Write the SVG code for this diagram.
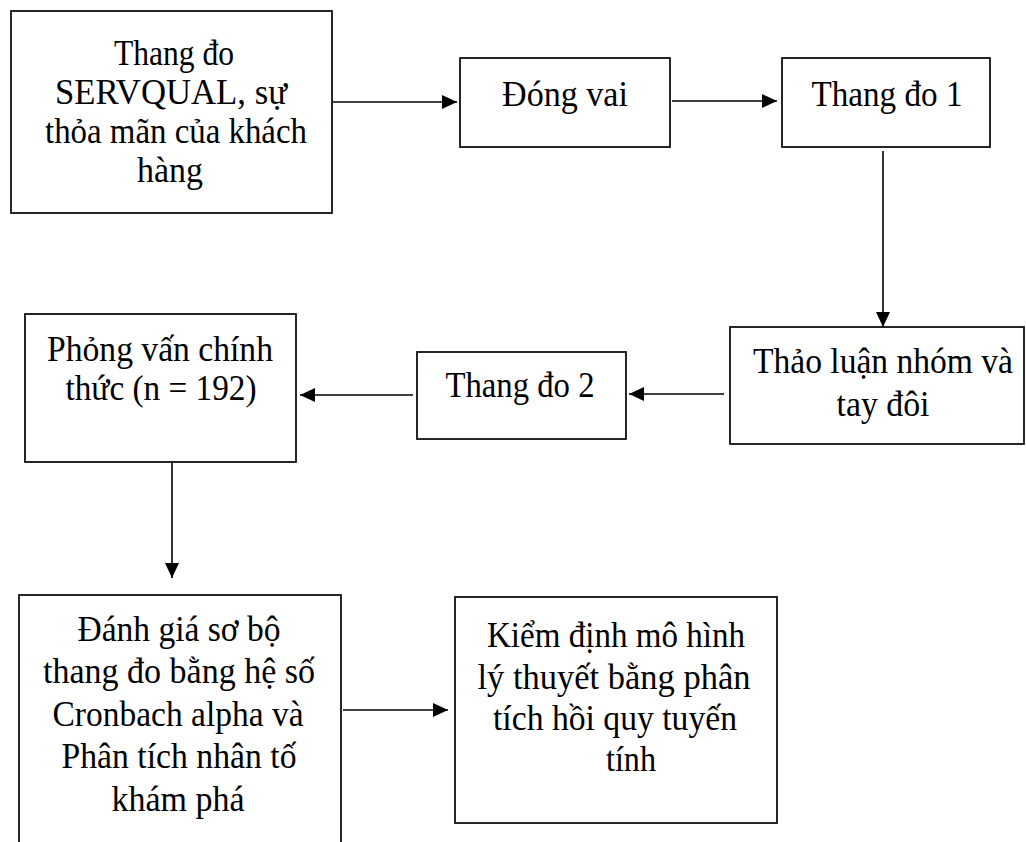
<svg xmlns="http://www.w3.org/2000/svg" width="1026" height="842" viewBox="0 0 1026 842">
  <style>
    .box { fill: #ffffff; stroke: #000000; stroke-width: 1.7; }
    .lbl { font-family: "Liberation Serif", "Times New Roman", serif; font-size: 35px; fill: #000000; text-anchor: middle; }
    .conn { fill: none; stroke: #000000; stroke-width: 1.6; marker-end: url(#arrow); }
  </style>
  <defs>
    <marker id="arrow" markerUnits="userSpaceOnUse" markerWidth="15" markerHeight="14" refX="15" refY="7" orient="auto">
      <path d="M0,0 L15,7 L0,14 Z" fill="#000000"/>
    </marker>
  </defs>
  <rect width="1026" height="842" fill="#ffffff"/>

  <g id="servqual">
    <rect class="box" x="11" y="11" width="321" height="202"/>
    <text class="lbl" x="174" y="65" textLength="120" lengthAdjust="spacingAndGlyphs">Thang đo</text>
    <text class="lbl" x="171" y="104" textLength="232" lengthAdjust="spacingAndGlyphs">SERVQUAL, sự</text>
    <text class="lbl" x="176" y="143" textLength="262" lengthAdjust="spacingAndGlyphs">thỏa mãn của khách</text>
    <text class="lbl" x="170" y="182" textLength="66" lengthAdjust="spacingAndGlyphs">hàng</text>
  </g>

  <g id="dong-vai">
    <rect class="box" x="460" y="58" width="210" height="89"/>
    <text class="lbl" x="565" y="106" textLength="126" lengthAdjust="spacingAndGlyphs">Đóng vai</text>
  </g>

  <g id="thang-do-1">
    <rect class="box" x="782" y="58" width="208" height="89"/>
    <text class="lbl" x="887" y="106" textLength="151" lengthAdjust="spacingAndGlyphs">Thang đo 1</text>
  </g>

  <g id="thao-luan">
    <rect class="box" x="730" y="327" width="294" height="117"/>
    <text class="lbl" x="883" y="373" textLength="260" lengthAdjust="spacingAndGlyphs">Thảo luận nhóm và</text>
    <text class="lbl" x="883" y="416" textLength="93" lengthAdjust="spacingAndGlyphs">tay đôi</text>
  </g>

  <g id="thang-do-2">
    <rect class="box" x="417" y="352" width="209" height="87"/>
    <text class="lbl" x="520" y="397" textLength="149" lengthAdjust="spacingAndGlyphs">Thang đo 2</text>
  </g>

  <g id="phong-van">
    <rect class="box" x="25" y="314" width="271" height="148"/>
    <text class="lbl" x="160" y="361" textLength="226" lengthAdjust="spacingAndGlyphs">Phỏng vấn chính</text>
    <text class="lbl" x="161" y="400" textLength="191" lengthAdjust="spacingAndGlyphs">thức (n = 192)</text>
  </g>

  <g id="danh-gia">
    <rect class="box" x="19" y="595" width="322" height="260"/>
    <text class="lbl" x="179" y="641" textLength="203" lengthAdjust="spacingAndGlyphs">Đánh giá sơ bộ</text>
    <text class="lbl" x="179" y="683" textLength="272" lengthAdjust="spacingAndGlyphs">thang đo bằng hệ số</text>
    <text class="lbl" x="178" y="726" textLength="251" lengthAdjust="spacingAndGlyphs">Cronbach alpha và</text>
    <text class="lbl" x="179" y="768" textLength="235" lengthAdjust="spacingAndGlyphs">Phân tích nhân tố</text>
    <text class="lbl" x="178" y="811" textLength="133" lengthAdjust="spacingAndGlyphs">khám phá</text>
  </g>

  <g id="kiem-dinh">
    <rect class="box" x="455" y="597" width="322" height="226"/>
    <text class="lbl" x="616" y="647" textLength="258" lengthAdjust="spacingAndGlyphs">Kiểm định mô hình</text>
    <text class="lbl" x="614" y="689" textLength="273" lengthAdjust="spacingAndGlyphs">lý thuyết bằng phân</text>
    <text class="lbl" x="615" y="730" textLength="244" lengthAdjust="spacingAndGlyphs">tích hồi quy tuyến</text>
    <text class="lbl" x="631" y="771" textLength="50" lengthAdjust="spacingAndGlyphs">tính</text>
  </g>

  <g id="connectors">
    <line class="conn" x1="333" y1="102" x2="457" y2="102"/>
    <line class="conn" x1="672" y1="101" x2="777" y2="101"/>
    <line class="conn" x1="883" y1="151" x2="883" y2="327"/>
    <line class="conn" x1="724" y1="394" x2="629" y2="394"/>
    <line class="conn" x1="413" y1="395" x2="300" y2="395"/>
    <line class="conn" x1="172" y1="463" x2="172" y2="578"/>
    <line class="conn" x1="343" y1="710" x2="448" y2="710"/>
  </g>
</svg>
